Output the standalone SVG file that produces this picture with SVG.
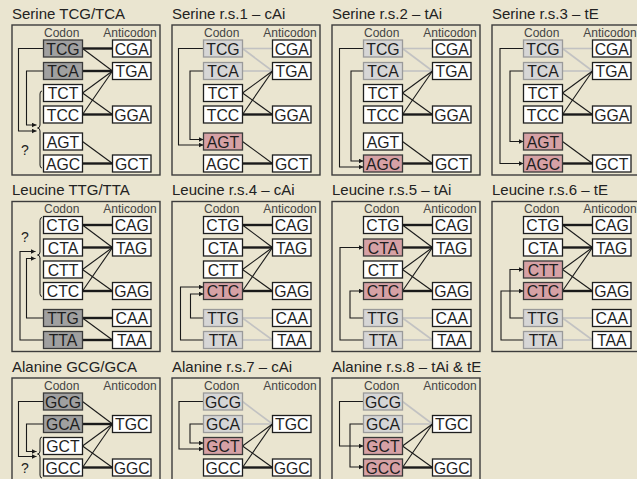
<svg xmlns="http://www.w3.org/2000/svg" width="637" height="479" viewBox="0 0 637 479">
<defs>
<marker id="ah" markerUnits="userSpaceOnUse" markerWidth="6" markerHeight="6" refX="5" refY="2.5" orient="auto"><path d="M0,0L5,2.5L0,5z" fill="#1a1a1a"/></marker>
<style>
text{font-family:"Liberation Sans",Arial,sans-serif}
.fr{fill:none;stroke:#3c3c3c;stroke-width:1.4}
.b{fill:#fff;stroke:#1e1e1e;stroke-width:1.3}
.dg{fill:#a0a0a0;stroke:#3a3a3a}
.lg{fill:#d6d6d6;stroke:#9a9a9a}
.pk{fill:#d6a1a5;stroke:#3a3a3a}
.t{font-size:15.8px;fill:#1e1e1e;text-anchor:middle}
.ti{font-size:15px;fill:#222}
.lb{font-size:12px;fill:#444;text-anchor:middle}
.q{font-size:14px;fill:#222;text-anchor:middle}
.k{stroke:#1a1a1a;stroke-width:2.4;fill:none}
.n{stroke:#1a1a1a;stroke-width:1.1;fill:none}
.g{stroke:#c2c2c2;stroke-width:1.6;fill:none}
.ar{stroke:#1a1a1a;stroke-width:1.1;fill:none;marker-end:url(#ah)}
.br{stroke:#1a1a1a;stroke-width:1;fill:none}
</style>
</defs>
<rect x="0" y="0" width="637" height="479" fill="#eae5d0"/>

<!-- Row 1: Serine -->
<g id="serine-ref" transform="translate(12,25)">
<rect class="fr" x="0" y="0" width="148" height="150"/>
<text class="ti" x="0" y="-6.5">Serine TCG/TCA</text>
<text class="lb" x="49.7" y="11.5">Codon</text>
<text class="lb" x="118" y="11.5">Anticodon</text>
<g id="serine-ref-connectors">
<path class="k" d="M70.5,23.5H100.5"/>
<path class="n" d="M70.5,23.5L100.5,46"/>
<path class="k" d="M70.5,46H100.5"/>
<path class="n" d="M70.5,68L100.5,46"/>
<path class="n" d="M70.5,68L100.5,89.5"/>
<path class="n" d="M70.5,89.5L100.5,46"/>
<path class="k" d="M70.5,89.5H100.5"/>
<path class="n" d="M70.5,116.5L100.5,138.5"/>
<path class="k" d="M70.5,138.5H100.5"/>
<path class="ar" d="M31.5,23.5H6.5V106H24.5"/>
<path class="ar" d="M31.5,46H14.5V100H24.5"/>
<path class="br" d="M30,66Q28,66 28,69V100Q28,103 25.5,103Q28,103 28,106V140Q28,143 30,143"/>
</g>
<text class="q" x="13" y="130">?</text>
<g id="s0-tcg"><rect class="b dg" x="31.5" y="15" width="39" height="17"/><text class="t" x="51" y="29.6">TCG</text></g>
<g id="s0-tca"><rect class="b dg" x="31.5" y="37.5" width="39" height="17"/><text class="t" x="51" y="52.1">TCA</text></g>
<g id="s0-tct"><rect class="b" x="31.5" y="59.5" width="39" height="17"/><text class="t" x="51" y="74.1">TCT</text></g>
<g id="s0-tcc"><rect class="b" x="31.5" y="81" width="39" height="17"/><text class="t" x="51" y="95.6">TCC</text></g>
<g id="s0-agt"><rect class="b" x="31.5" y="108" width="39" height="17"/><text class="t" x="51" y="122.6">AGT</text></g>
<g id="s0-agc"><rect class="b" x="31.5" y="130" width="39" height="17"/><text class="t" x="51" y="144.6">AGC</text></g>
<g id="s0-cga"><rect class="b" x="100.5" y="15" width="38.5" height="17"/><text class="t" x="119.75" y="29.6">CGA</text></g>
<g id="s0-tga"><rect class="b" x="100.5" y="37.5" width="38.5" height="17"/><text class="t" x="119.75" y="52.1">TGA</text></g>
<g id="s0-gga"><rect class="b" x="100.5" y="81" width="38.5" height="17"/><text class="t" x="119.75" y="95.6">GGA</text></g>
<g id="s0-gct"><rect class="b" x="100.5" y="130" width="38.5" height="17"/><text class="t" x="119.75" y="144.6">GCT</text></g>
</g>

<g id="serine-rs1" transform="translate(172,25)">
<rect class="fr" x="0" y="0" width="148" height="150"/>
<text class="ti" x="0" y="-6.5">Serine r.s.1 – cAi</text>
<text class="lb" x="49.7" y="11.5">Codon</text>
<text class="lb" x="118" y="11.5">Anticodon</text>
<g id="serine-rs1-connectors">
<path class="g" d="M70.5,23.5H100.5"/>
<path class="g" d="M70.5,23.5L100.5,46"/>
<path class="g" d="M70.5,46H100.5"/>
<path class="n" d="M70.5,68L100.5,46"/>
<path class="n" d="M70.5,68L100.5,89.5"/>
<path class="n" d="M70.5,89.5L100.5,46"/>
<path class="k" d="M70.5,89.5H100.5"/>
<path class="n" d="M70.5,116.5L100.5,138.5"/>
<path class="k" d="M70.5,138.5H100.5"/>
<path class="ar" d="M31.5,23.5H6.5V120H31.5"/>
<path class="ar" d="M31.5,46H18V114.5H31.5"/>
</g>
<g id="s1-tcg"><rect class="b lg" x="31.5" y="15" width="39" height="17"/><text class="t" x="51" y="29.6">TCG</text></g>
<g id="s1-tca"><rect class="b lg" x="31.5" y="37.5" width="39" height="17"/><text class="t" x="51" y="52.1">TCA</text></g>
<g id="s1-tct"><rect class="b" x="31.5" y="59.5" width="39" height="17"/><text class="t" x="51" y="74.1">TCT</text></g>
<g id="s1-tcc"><rect class="b" x="31.5" y="81" width="39" height="17"/><text class="t" x="51" y="95.6">TCC</text></g>
<g id="s1-agt"><rect class="b pk" x="31.5" y="108" width="39" height="17"/><text class="t" x="51" y="122.6">AGT</text></g>
<g id="s1-agc"><rect class="b" x="31.5" y="130" width="39" height="17"/><text class="t" x="51" y="144.6">AGC</text></g>
<g id="s1-cga"><rect class="b" x="100.5" y="15" width="38.5" height="17"/><text class="t" x="119.75" y="29.6">CGA</text></g>
<g id="s1-tga"><rect class="b" x="100.5" y="37.5" width="38.5" height="17"/><text class="t" x="119.75" y="52.1">TGA</text></g>
<g id="s1-gga"><rect class="b" x="100.5" y="81" width="38.5" height="17"/><text class="t" x="119.75" y="95.6">GGA</text></g>
<g id="s1-gct"><rect class="b" x="100.5" y="130" width="38.5" height="17"/><text class="t" x="119.75" y="144.6">GCT</text></g>
</g>

<g id="serine-rs2" transform="translate(332,25)">
<rect class="fr" x="0" y="0" width="148" height="150"/>
<text class="ti" x="0" y="-6.5">Serine r.s.2 – tAi</text>
<text class="lb" x="49.7" y="11.5">Codon</text>
<text class="lb" x="118" y="11.5">Anticodon</text>
<g id="serine-rs2-connectors">
<path class="g" d="M70.5,23.5H100.5"/>
<path class="g" d="M70.5,23.5L100.5,46"/>
<path class="g" d="M70.5,46H100.5"/>
<path class="n" d="M70.5,68L100.5,46"/>
<path class="n" d="M70.5,68L100.5,89.5"/>
<path class="n" d="M70.5,89.5L100.5,46"/>
<path class="k" d="M70.5,89.5H100.5"/>
<path class="n" d="M70.5,116.5L100.5,138.5"/>
<path class="k" d="M70.5,138.5H100.5"/>
<path class="ar" d="M31.5,23.5H7.5V142H31.5"/>
<path class="ar" d="M31.5,46H19V136H31.5"/>
</g>
<g id="s2-tcg"><rect class="b lg" x="31.5" y="15" width="39" height="17"/><text class="t" x="51" y="29.6">TCG</text></g>
<g id="s2-tca"><rect class="b lg" x="31.5" y="37.5" width="39" height="17"/><text class="t" x="51" y="52.1">TCA</text></g>
<g id="s2-tct"><rect class="b" x="31.5" y="59.5" width="39" height="17"/><text class="t" x="51" y="74.1">TCT</text></g>
<g id="s2-tcc"><rect class="b" x="31.5" y="81" width="39" height="17"/><text class="t" x="51" y="95.6">TCC</text></g>
<g id="s2-agt"><rect class="b" x="31.5" y="108" width="39" height="17"/><text class="t" x="51" y="122.6">AGT</text></g>
<g id="s2-agc"><rect class="b pk" x="31.5" y="130" width="39" height="17"/><text class="t" x="51" y="144.6">AGC</text></g>
<g id="s2-cga"><rect class="b" x="100.5" y="15" width="38.5" height="17"/><text class="t" x="119.75" y="29.6">CGA</text></g>
<g id="s2-tga"><rect class="b" x="100.5" y="37.5" width="38.5" height="17"/><text class="t" x="119.75" y="52.1">TGA</text></g>
<g id="s2-gga"><rect class="b" x="100.5" y="81" width="38.5" height="17"/><text class="t" x="119.75" y="95.6">GGA</text></g>
<g id="s2-gct"><rect class="b" x="100.5" y="130" width="38.5" height="17"/><text class="t" x="119.75" y="144.6">GCT</text></g>
</g>

<g id="serine-rs3" transform="translate(492,25)">
<rect class="fr" x="0" y="0" width="148" height="150"/>
<text class="ti" x="0" y="-6.5">Serine r.s.3 – tE</text>
<text class="lb" x="49.7" y="11.5">Codon</text>
<text class="lb" x="118" y="11.5">Anticodon</text>
<g id="serine-rs3-connectors">
<path class="g" d="M70.5,23.5H100.5"/>
<path class="g" d="M70.5,23.5L100.5,46"/>
<path class="g" d="M70.5,46H100.5"/>
<path class="n" d="M70.5,68L100.5,46"/>
<path class="n" d="M70.5,68L100.5,89.5"/>
<path class="n" d="M70.5,89.5L100.5,46"/>
<path class="k" d="M70.5,89.5H100.5"/>
<path class="n" d="M70.5,116.5L100.5,138.5"/>
<path class="k" d="M70.5,138.5H100.5"/>
<path class="ar" d="M31.5,46H18V116.5H31.5"/>
<path class="ar" d="M31.5,23.5H8V138.5H31.5"/>
</g>
<g id="s3-tcg"><rect class="b lg" x="31.5" y="15" width="39" height="17"/><text class="t" x="51" y="29.6">TCG</text></g>
<g id="s3-tca"><rect class="b lg" x="31.5" y="37.5" width="39" height="17"/><text class="t" x="51" y="52.1">TCA</text></g>
<g id="s3-tct"><rect class="b" x="31.5" y="59.5" width="39" height="17"/><text class="t" x="51" y="74.1">TCT</text></g>
<g id="s3-tcc"><rect class="b" x="31.5" y="81" width="39" height="17"/><text class="t" x="51" y="95.6">TCC</text></g>
<g id="s3-agt"><rect class="b pk" x="31.5" y="108" width="39" height="17"/><text class="t" x="51" y="122.6">AGT</text></g>
<g id="s3-agc"><rect class="b pk" x="31.5" y="130" width="39" height="17"/><text class="t" x="51" y="144.6">AGC</text></g>
<g id="s3-cga"><rect class="b" x="100.5" y="15" width="38.5" height="17"/><text class="t" x="119.75" y="29.6">CGA</text></g>
<g id="s3-tga"><rect class="b" x="100.5" y="37.5" width="38.5" height="17"/><text class="t" x="119.75" y="52.1">TGA</text></g>
<g id="s3-gga"><rect class="b" x="100.5" y="81" width="38.5" height="17"/><text class="t" x="119.75" y="95.6">GGA</text></g>
<g id="s3-gct"><rect class="b" x="100.5" y="130" width="38.5" height="17"/><text class="t" x="119.75" y="144.6">GCT</text></g>
</g>

<!-- Row 2: Leucine -->
<g id="leucine-ref" transform="translate(12,201.5)">
<rect class="fr" x="0" y="0" width="148" height="150"/>
<text class="ti" x="0" y="-6.5">Leucine TTG/TTA</text>
<text class="lb" x="49.7" y="11.5">Codon</text>
<text class="lb" x="118" y="11.5">Anticodon</text>
<g id="leucine-ref-connectors">
<path class="k" d="M70.5,23.5H100.5"/>
<path class="n" d="M70.5,23.5L100.5,46"/>
<path class="k" d="M70.5,46H100.5"/>
<path class="n" d="M70.5,68L100.5,46"/>
<path class="n" d="M70.5,68L100.5,89.5"/>
<path class="n" d="M70.5,89.5L100.5,46"/>
<path class="k" d="M70.5,89.5H100.5"/>
<path class="k" d="M70.5,116.5H100.5"/>
<path class="n" d="M70.5,116.5L100.5,138.5"/>
<path class="k" d="M70.5,138.5H100.5"/>
<path class="ar" d="M31.5,138.5H8V50H23.5"/>
<path class="ar" d="M31.5,116.5H14.5V57H23.5"/>
<path class="br" d="M30,16Q28,16 28,19V50.5Q28,53.5 25.5,53.5Q28,53.5 28,56.5V92Q28,95 30,95"/>
</g>
<text class="q" x="13" y="40">?</text>
<g id="l0-ctg"><rect class="b" x="31.5" y="15" width="39" height="17"/><text class="t" x="51" y="29.6">CTG</text></g>
<g id="l0-cta"><rect class="b" x="31.5" y="37.5" width="39" height="17"/><text class="t" x="51" y="52.1">CTA</text></g>
<g id="l0-ctt"><rect class="b" x="31.5" y="59.5" width="39" height="17"/><text class="t" x="51" y="74.1">CTT</text></g>
<g id="l0-ctc"><rect class="b" x="31.5" y="81" width="39" height="17"/><text class="t" x="51" y="95.6">CTC</text></g>
<g id="l0-ttg"><rect class="b dg" x="31.5" y="108" width="39" height="17"/><text class="t" x="51" y="122.6">TTG</text></g>
<g id="l0-tta"><rect class="b dg" x="31.5" y="130" width="39" height="17"/><text class="t" x="51" y="144.6">TTA</text></g>
<g id="l0-cag"><rect class="b" x="100.5" y="15" width="38.5" height="17"/><text class="t" x="119.75" y="29.6">CAG</text></g>
<g id="l0-tag"><rect class="b" x="100.5" y="37.5" width="38.5" height="17"/><text class="t" x="119.75" y="52.1">TAG</text></g>
<g id="l0-gag"><rect class="b" x="100.5" y="81" width="38.5" height="17"/><text class="t" x="119.75" y="95.6">GAG</text></g>
<g id="l0-caa"><rect class="b" x="100.5" y="108" width="38.5" height="17"/><text class="t" x="119.75" y="122.6">CAA</text></g>
<g id="l0-taa"><rect class="b" x="100.5" y="130" width="38.5" height="17"/><text class="t" x="119.75" y="144.6">TAA</text></g>
</g>

<g id="leucine-rs4" transform="translate(172,201.5)">
<rect class="fr" x="0" y="0" width="148" height="150"/>
<text class="ti" x="0" y="-6.5">Leucine r.s.4 – cAi</text>
<text class="lb" x="49.7" y="11.5">Codon</text>
<text class="lb" x="118" y="11.5">Anticodon</text>
<g id="leucine-rs4-connectors">
<path class="k" d="M70.5,23.5H100.5"/>
<path class="n" d="M70.5,23.5L100.5,46"/>
<path class="k" d="M70.5,46H100.5"/>
<path class="n" d="M70.5,68L100.5,46"/>
<path class="n" d="M70.5,68L100.5,89.5"/>
<path class="n" d="M70.5,89.5L100.5,46"/>
<path class="k" d="M70.5,89.5H100.5"/>
<path class="g" d="M70.5,116.5H100.5"/>
<path class="g" d="M70.5,116.5L100.5,138.5"/>
<path class="g" d="M70.5,138.5H100.5"/>
<path class="ar" d="M31.5,138.5H8.5V85.5H31.5"/>
<path class="ar" d="M31.5,116.5H18.5V92.5H31.5"/>
</g>
<g id="l1-ctg"><rect class="b" x="31.5" y="15" width="39" height="17"/><text class="t" x="51" y="29.6">CTG</text></g>
<g id="l1-cta"><rect class="b" x="31.5" y="37.5" width="39" height="17"/><text class="t" x="51" y="52.1">CTA</text></g>
<g id="l1-ctt"><rect class="b" x="31.5" y="59.5" width="39" height="17"/><text class="t" x="51" y="74.1">CTT</text></g>
<g id="l1-ctc"><rect class="b pk" x="31.5" y="81" width="39" height="17"/><text class="t" x="51" y="95.6">CTC</text></g>
<g id="l1-ttg"><rect class="b lg" x="31.5" y="108" width="39" height="17"/><text class="t" x="51" y="122.6">TTG</text></g>
<g id="l1-tta"><rect class="b lg" x="31.5" y="130" width="39" height="17"/><text class="t" x="51" y="144.6">TTA</text></g>
<g id="l1-cag"><rect class="b" x="100.5" y="15" width="38.5" height="17"/><text class="t" x="119.75" y="29.6">CAG</text></g>
<g id="l1-tag"><rect class="b" x="100.5" y="37.5" width="38.5" height="17"/><text class="t" x="119.75" y="52.1">TAG</text></g>
<g id="l1-gag"><rect class="b" x="100.5" y="81" width="38.5" height="17"/><text class="t" x="119.75" y="95.6">GAG</text></g>
<g id="l1-caa"><rect class="b" x="100.5" y="108" width="38.5" height="17"/><text class="t" x="119.75" y="122.6">CAA</text></g>
<g id="l1-taa"><rect class="b" x="100.5" y="130" width="38.5" height="17"/><text class="t" x="119.75" y="144.6">TAA</text></g>
</g>

<g id="leucine-rs5" transform="translate(332,201.5)">
<rect class="fr" x="0" y="0" width="148" height="150"/>
<text class="ti" x="0" y="-6.5">Leucine r.s.5 – tAi</text>
<text class="lb" x="49.7" y="11.5">Codon</text>
<text class="lb" x="118" y="11.5">Anticodon</text>
<g id="leucine-rs5-connectors">
<path class="k" d="M70.5,23.5H100.5"/>
<path class="n" d="M70.5,23.5L100.5,46"/>
<path class="k" d="M70.5,46H100.5"/>
<path class="n" d="M70.5,68L100.5,46"/>
<path class="n" d="M70.5,68L100.5,89.5"/>
<path class="n" d="M70.5,89.5L100.5,46"/>
<path class="k" d="M70.5,89.5H100.5"/>
<path class="g" d="M70.5,116.5H100.5"/>
<path class="g" d="M70.5,116.5L100.5,138.5"/>
<path class="g" d="M70.5,138.5H100.5"/>
<path class="ar" d="M31.5,138.5H8V46H31.5"/>
<path class="ar" d="M31.5,116.5H18V89.5H31.5"/>
</g>
<g id="l2-ctg"><rect class="b" x="31.5" y="15" width="39" height="17"/><text class="t" x="51" y="29.6">CTG</text></g>
<g id="l2-cta"><rect class="b pk" x="31.5" y="37.5" width="39" height="17"/><text class="t" x="51" y="52.1">CTA</text></g>
<g id="l2-ctt"><rect class="b" x="31.5" y="59.5" width="39" height="17"/><text class="t" x="51" y="74.1">CTT</text></g>
<g id="l2-ctc"><rect class="b pk" x="31.5" y="81" width="39" height="17"/><text class="t" x="51" y="95.6">CTC</text></g>
<g id="l2-ttg"><rect class="b lg" x="31.5" y="108" width="39" height="17"/><text class="t" x="51" y="122.6">TTG</text></g>
<g id="l2-tta"><rect class="b lg" x="31.5" y="130" width="39" height="17"/><text class="t" x="51" y="144.6">TTA</text></g>
<g id="l2-cag"><rect class="b" x="100.5" y="15" width="38.5" height="17"/><text class="t" x="119.75" y="29.6">CAG</text></g>
<g id="l2-tag"><rect class="b" x="100.5" y="37.5" width="38.5" height="17"/><text class="t" x="119.75" y="52.1">TAG</text></g>
<g id="l2-gag"><rect class="b" x="100.5" y="81" width="38.5" height="17"/><text class="t" x="119.75" y="95.6">GAG</text></g>
<g id="l2-caa"><rect class="b" x="100.5" y="108" width="38.5" height="17"/><text class="t" x="119.75" y="122.6">CAA</text></g>
<g id="l2-taa"><rect class="b" x="100.5" y="130" width="38.5" height="17"/><text class="t" x="119.75" y="144.6">TAA</text></g>
</g>

<g id="leucine-rs6" transform="translate(492,201.5)">
<rect class="fr" x="0" y="0" width="148" height="150"/>
<text class="ti" x="0" y="-6.5">Leucine r.s.6 – tE</text>
<text class="lb" x="49.7" y="11.5">Codon</text>
<text class="lb" x="118" y="11.5">Anticodon</text>
<g id="leucine-rs6-connectors">
<path class="k" d="M70.5,23.5H100.5"/>
<path class="n" d="M70.5,23.5L100.5,46"/>
<path class="k" d="M70.5,46H100.5"/>
<path class="n" d="M70.5,68L100.5,46"/>
<path class="n" d="M70.5,68L100.5,89.5"/>
<path class="n" d="M70.5,89.5L100.5,46"/>
<path class="k" d="M70.5,89.5H100.5"/>
<path class="g" d="M70.5,116.5H100.5"/>
<path class="g" d="M70.5,116.5L100.5,138.5"/>
<path class="g" d="M70.5,138.5H100.5"/>
<path class="ar" d="M31.5,116.5H18V68H31.5"/>
<path class="ar" d="M31.5,138.5H9V89.5H31.5"/>
</g>
<g id="l3-ctg"><rect class="b" x="31.5" y="15" width="39" height="17"/><text class="t" x="51" y="29.6">CTG</text></g>
<g id="l3-cta"><rect class="b" x="31.5" y="37.5" width="39" height="17"/><text class="t" x="51" y="52.1">CTA</text></g>
<g id="l3-ctt"><rect class="b pk" x="31.5" y="59.5" width="39" height="17"/><text class="t" x="51" y="74.1">CTT</text></g>
<g id="l3-ctc"><rect class="b pk" x="31.5" y="81" width="39" height="17"/><text class="t" x="51" y="95.6">CTC</text></g>
<g id="l3-ttg"><rect class="b lg" x="31.5" y="108" width="39" height="17"/><text class="t" x="51" y="122.6">TTG</text></g>
<g id="l3-tta"><rect class="b lg" x="31.5" y="130" width="39" height="17"/><text class="t" x="51" y="144.6">TTA</text></g>
<g id="l3-cag"><rect class="b" x="100.5" y="15" width="38.5" height="17"/><text class="t" x="119.75" y="29.6">CAG</text></g>
<g id="l3-tag"><rect class="b" x="100.5" y="37.5" width="38.5" height="17"/><text class="t" x="119.75" y="52.1">TAG</text></g>
<g id="l3-gag"><rect class="b" x="100.5" y="81" width="38.5" height="17"/><text class="t" x="119.75" y="95.6">GAG</text></g>
<g id="l3-caa"><rect class="b" x="100.5" y="108" width="38.5" height="17"/><text class="t" x="119.75" y="122.6">CAA</text></g>
<g id="l3-taa"><rect class="b" x="100.5" y="130" width="38.5" height="17"/><text class="t" x="119.75" y="144.6">TAA</text></g>
</g>

<!-- Row 3: Alanine -->
<g id="alanine-ref" transform="translate(12,378)">
<rect class="fr" x="0" y="0" width="148" height="150"/>
<text class="ti" x="0" y="-6.5">Alanine GCG/GCA</text>
<text class="lb" x="49.7" y="11.5">Codon</text>
<text class="lb" x="118" y="11.5">Anticodon</text>
<g id="alanine-ref-connectors">
<path class="n" d="M70.5,23.5L100.5,46"/>
<path class="k" d="M70.5,46H100.5"/>
<path class="n" d="M70.5,68L100.5,46"/>
<path class="n" d="M70.5,68L100.5,89.5"/>
<path class="n" d="M70.5,89.5L100.5,46"/>
<path class="k" d="M70.5,89.5H100.5"/>
<path class="ar" d="M31.5,23.5H6.5V78.5H24.5"/>
<path class="ar" d="M31.5,46H14.5V73.5H24.5"/>
<path class="br" d="M30,59Q28,59 28,62V73Q28,76 25.5,76Q28,76 28,79V97Q28,100 30,100"/>
</g>
<text class="q" x="13" y="95">?</text>
<g id="a0-gcg"><rect class="b dg" x="31.5" y="15" width="39" height="17"/><text class="t" x="51" y="29.6">GCG</text></g>
<g id="a0-gca"><rect class="b dg" x="31.5" y="37.5" width="39" height="17"/><text class="t" x="51" y="52.1">GCA</text></g>
<g id="a0-gct"><rect class="b" x="31.5" y="59.5" width="39" height="17"/><text class="t" x="51" y="74.1">GCT</text></g>
<g id="a0-gcc"><rect class="b" x="31.5" y="81" width="39" height="17"/><text class="t" x="51" y="95.6">GCC</text></g>
<g id="a0-tgc"><rect class="b" x="100.5" y="37.5" width="38.5" height="17"/><text class="t" x="119.75" y="52.1">TGC</text></g>
<g id="a0-ggc"><rect class="b" x="100.5" y="81" width="38.5" height="17"/><text class="t" x="119.75" y="95.6">GGC</text></g>
</g>

<g id="alanine-rs7" transform="translate(172,378)">
<rect class="fr" x="0" y="0" width="148" height="150"/>
<text class="ti" x="0" y="-6.5">Alanine r.s.7 – cAi</text>
<text class="lb" x="49.7" y="11.5">Codon</text>
<text class="lb" x="118" y="11.5">Anticodon</text>
<g id="alanine-rs7-connectors">
<path class="g" d="M70.5,23.5L100.5,46"/>
<path class="g" d="M70.5,46H100.5"/>
<path class="n" d="M70.5,68L100.5,46"/>
<path class="n" d="M70.5,68L100.5,89.5"/>
<path class="n" d="M70.5,89.5L100.5,46"/>
<path class="k" d="M70.5,89.5H100.5"/>
<path class="ar" d="M31.5,23.5H7V71H31.5"/>
<path class="ar" d="M31.5,46H18V65H31.5"/>
</g>
<g id="a1-gcg"><rect class="b lg" x="31.5" y="15" width="39" height="17"/><text class="t" x="51" y="29.6">GCG</text></g>
<g id="a1-gca"><rect class="b lg" x="31.5" y="37.5" width="39" height="17"/><text class="t" x="51" y="52.1">GCA</text></g>
<g id="a1-gct"><rect class="b pk" x="31.5" y="59.5" width="39" height="17"/><text class="t" x="51" y="74.1">GCT</text></g>
<g id="a1-gcc"><rect class="b" x="31.5" y="81" width="39" height="17"/><text class="t" x="51" y="95.6">GCC</text></g>
<g id="a1-tgc"><rect class="b" x="100.5" y="37.5" width="38.5" height="17"/><text class="t" x="119.75" y="52.1">TGC</text></g>
<g id="a1-ggc"><rect class="b" x="100.5" y="81" width="38.5" height="17"/><text class="t" x="119.75" y="95.6">GGC</text></g>
</g>

<g id="alanine-rs8" transform="translate(332,378)">
<rect class="fr" x="0" y="0" width="148" height="150"/>
<text class="ti" x="0" y="-6.5">Alanine r.s.8 – tAi &amp; tE</text>
<text class="lb" x="49.7" y="11.5">Codon</text>
<text class="lb" x="118" y="11.5">Anticodon</text>
<g id="alanine-rs8-connectors">
<path class="g" d="M70.5,23.5L100.5,46"/>
<path class="g" d="M70.5,46H100.5"/>
<path class="n" d="M70.5,68L100.5,46"/>
<path class="n" d="M70.5,68L100.5,89.5"/>
<path class="n" d="M70.5,89.5L100.5,46"/>
<path class="k" d="M70.5,89.5H100.5"/>
<path class="ar" d="M31.5,23.5H7.5V68H31.5"/>
<path class="ar" d="M31.5,46H18V89H31.5"/>
</g>
<g id="a2-gcg"><rect class="b lg" x="31.5" y="15" width="39" height="17"/><text class="t" x="51" y="29.6">GCG</text></g>
<g id="a2-gca"><rect class="b lg" x="31.5" y="37.5" width="39" height="17"/><text class="t" x="51" y="52.1">GCA</text></g>
<g id="a2-gct"><rect class="b pk" x="31.5" y="59.5" width="39" height="17"/><text class="t" x="51" y="74.1">GCT</text></g>
<g id="a2-gcc"><rect class="b pk" x="31.5" y="81" width="39" height="17"/><text class="t" x="51" y="95.6">GCC</text></g>
<g id="a2-tgc"><rect class="b" x="100.5" y="37.5" width="38.5" height="17"/><text class="t" x="119.75" y="52.1">TGC</text></g>
<g id="a2-ggc"><rect class="b" x="100.5" y="81" width="38.5" height="17"/><text class="t" x="119.75" y="95.6">GGC</text></g>
</g>
</svg>
